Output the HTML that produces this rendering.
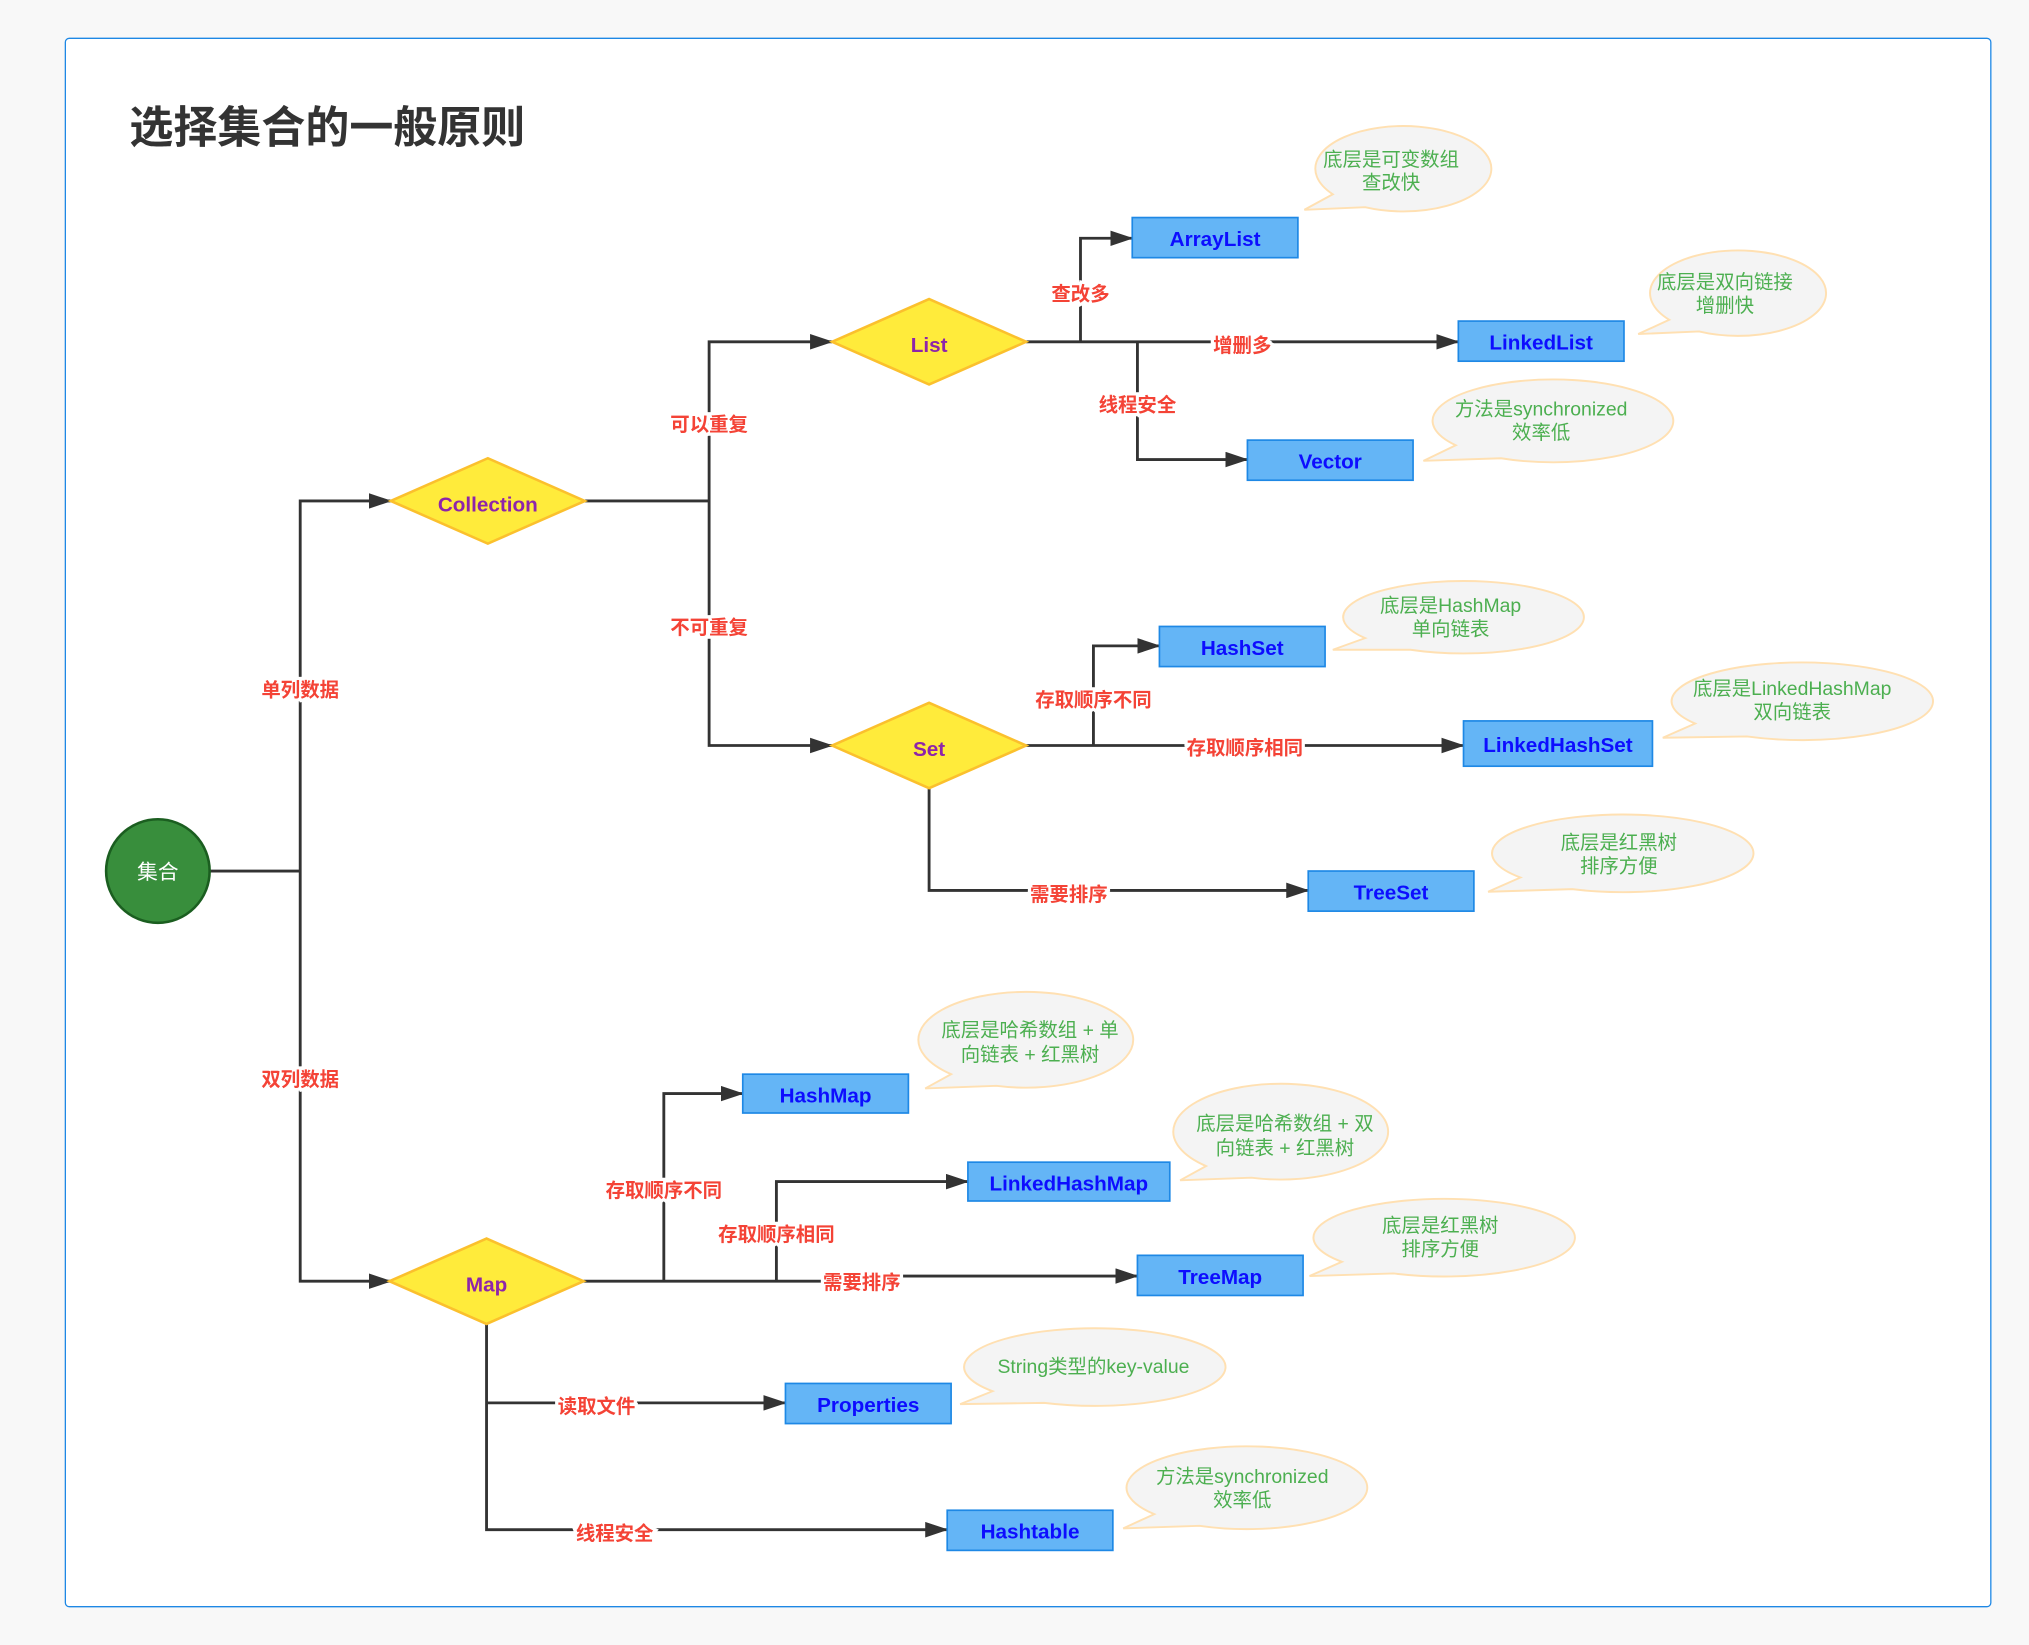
<!DOCTYPE html>
<html><head><meta charset="utf-8"><style>
html,body{margin:0;padding:0;background:#f8f8f8;}
svg{display:block;}
text{font-family:"Liberation Sans","Noto Sans CJK SC",sans-serif;}
.lbl{fill:#f44336;font-size:15px;font-weight:bold;text-anchor:middle;paint-order:stroke;stroke:#fff;stroke-width:5px;}
.box{fill:#64b5f6;stroke:#1e88e5;stroke-width:1.3;}
.bt{fill:#0d0dff;font-size:16px;font-weight:bold;text-anchor:middle;}
.dia{fill:#ffeb3b;stroke:#fbc02d;stroke-width:2;}
.dt{fill:#8e24aa;font-size:16px;font-weight:bold;text-anchor:middle;}
.ln{fill:none;stroke:#333;stroke-width:2.2;}
.cl{fill:#f4f4f4;stroke:#ffe0b2;stroke-width:1.5;}
.ct{fill:#4caf50;font-size:15px;text-anchor:middle;}
</style></head><body>
<svg width="2029" height="1645" viewBox="0 0 1568 1271" xmlns="http://www.w3.org/2000/svg">
<defs><marker id="a" markerWidth="10" markerHeight="10" refX="9" refY="5" orient="auto" markerUnits="userSpaceOnUse" viewBox="0 0 10 10"><path d="M0,0 L10,5 L0,10 z" fill="#333"/></marker>
<marker id="ar" markerWidth="18" markerHeight="12" refX="17" refY="6" orient="auto" markerUnits="userSpaceOnUse"><path d="M0,0 L18,6 L0,12 z" fill="#333"/></marker></defs>
<rect x="50.5" y="29.5" width="1488" height="1212" rx="3" fill="#fff" stroke="#1e88e5" stroke-width="1"/>
<text x="100" y="110" font-size="34" font-weight="bold" fill="#333">选择集合的一般原则</text>

<!-- connectors -->
<g class="ln">
<path d="M162,673 H232"/>
<path d="M232,673 V387 H302" marker-end="url(#ar)"/>
<path d="M232,673 V990 H302" marker-end="url(#ar)"/>
<path d="M452,387 H548"/>
<path d="M548,387 V264 H643" marker-end="url(#ar)"/>
<path d="M548,387 V576 H643" marker-end="url(#ar)"/>
<path d="M793,264 H1127" marker-end="url(#ar)"/>
<path d="M835,264 V184 H875" marker-end="url(#ar)"/>
<path d="M879,264 V355 H964" marker-end="url(#ar)"/>
<path d="M793,576 H1131" marker-end="url(#ar)"/>
<path d="M845,576 V499 H896" marker-end="url(#ar)"/>
<path d="M718,609 V688 H1011" marker-end="url(#ar)"/>
<path d="M451,990 H600 L640,990 H660 L680,986 H879" marker-end="url(#ar)"/>
<path d="M513,990 V845 H574" marker-end="url(#ar)"/>
<path d="M600,990 V913 H748" marker-end="url(#ar)"/>
<path d="M376,1023 V1182 H732" marker-end="url(#ar)"/>
<path d="M376,1084 H607" marker-end="url(#ar)"/>
</g>

<!-- labels -->
<text class="lbl" x="232" y="538">单列数据</text>
<text class="lbl" x="232" y="839">双列数据</text>
<text class="lbl" x="548" y="333">可以重复</text>
<text class="lbl" x="548" y="490">不可重复</text>
<text class="lbl" x="835" y="232">查改多</text>
<text class="lbl" x="960" y="272">增删多</text>
<text class="lbl" x="879" y="318">线程安全</text>
<text class="lbl" x="845" y="546">存取顺序不同</text>
<text class="lbl" x="962" y="583">存取顺序相同</text>
<text class="lbl" x="826" y="696">需要排序</text>
<text class="lbl" x="513" y="925">存取顺序不同</text>
<text class="lbl" x="600" y="959">存取顺序相同</text>
<text class="lbl" x="666" y="996">需要排序</text>
<text class="lbl" x="461" y="1092">读取文件</text>
<text class="lbl" x="475" y="1190">线程安全</text>

<!-- circle -->
<circle cx="122" cy="673" r="40" fill="#388e3c" stroke="#1b5e20" stroke-width="2"/>
<text x="122" y="679" font-size="16" fill="#fff" text-anchor="middle">集合</text>

<!-- diamonds -->
<polygon class="dia" points="302,387 377,354 452,387 377,420"/><text class="dt" x="377" y="395">Collection</text>
<polygon class="dia" points="643,264 718,231 793,264 718,297"/><text class="dt" x="718" y="272">List</text>
<polygon class="dia" points="643,576 718,543 793,576 718,609"/><text class="dt" x="718" y="584">Set</text>
<polygon class="dia" points="301,990 376,957 451,990 376,1023"/><text class="dt" x="376" y="998">Map</text>

<!-- boxes -->
<rect class="box" x="875" y="168" width="128" height="31"/><text class="bt" x="939" y="190">ArrayList</text>
<rect class="box" x="1127" y="248" width="128" height="31"/><text class="bt" x="1191" y="270">LinkedList</text>
<rect class="box" x="964" y="340" width="128" height="31"/><text class="bt" x="1028" y="362">Vector</text>
<rect class="box" x="896" y="484" width="128" height="31"/><text class="bt" x="960" y="506">HashSet</text>
<rect class="box" x="1131" y="557" width="146" height="35"/><text class="bt" x="1204" y="581">LinkedHashSet</text>
<rect class="box" x="1011" y="673" width="128" height="31"/><text class="bt" x="1075" y="695">TreeSet</text>
<rect class="box" x="574" y="830" width="128" height="30"/><text class="bt" x="638" y="852">HashMap</text>
<rect class="box" x="748" y="898" width="156" height="30"/><text class="bt" x="826" y="920">LinkedHashMap</text>
<rect class="box" x="879" y="970" width="128" height="31"/><text class="bt" x="943" y="992">TreeMap</text>
<rect class="box" x="607" y="1069" width="128" height="31"/><text class="bt" x="671" y="1091">Properties</text>
<rect class="box" x="732" y="1167" width="128" height="31"/><text class="bt" x="796" y="1189">Hashtable</text>

<!-- callouts -->
<g>
<path class="cl" d="M1030,150 A68,33 0 1 1 1055,160 L1008,162 Z"/>
<text class="ct" x="1075" y="128">底层是可变数组</text><text class="ct" x="1075" y="146">查改快</text>
<path class="cl" d="M1290,247 A68,33 0 1 1 1313,256 L1266,258 Z"/>
<text class="ct" x="1333" y="223">底层是双向链接</text><text class="ct" x="1333" y="241">增删快</text>
<path class="cl" d="M1125,344 A93,32 0 1 1 1160,354 L1100,356 Z"/>
<text class="ct" x="1191" y="321">方法是synchronized</text><text class="ct" x="1191" y="339">效率低</text>
<path class="cl" d="M1055,493 A93,28 0 1 1 1090,502 L1030,502 Z"/>
<text class="ct" x="1121" y="473">底层是HashMap</text><text class="ct" x="1121" y="491">单向链表</text>
<path class="cl" d="M1310,559 A101,30 0 1 1 1350,569 L1285,570 Z"/>
<text class="ct" x="1385" y="537">底层是LinkedHashMap</text><text class="ct" x="1385" y="555">双向链表</text>
<path class="cl" d="M1175,678 A101,30 0 1 1 1215,687 L1150,689 Z"/>
<text class="ct" x="1251" y="656">底层是红黑树</text><text class="ct" x="1251" y="674">排序方便</text>
<path class="cl" d="M735,830 A83,37 0 1 1 770,839 L715,841 Z"/>
<text class="ct" x="796" y="801">底层是哈希数组 + 单</text><text class="ct" x="796" y="820">向链表 + 红黑树</text>
<path class="cl" d="M932,901 A83,37 0 1 1 967,910 L912,912 Z"/>
<text class="ct" x="993" y="873">底层是哈希数组 + 双</text><text class="ct" x="993" y="892">向链表 + 红黑树</text>
<path class="cl" d="M1037,975 A101,30 0 1 1 1077,984 L1012,986 Z"/>
<text class="ct" x="1113" y="952">底层是红黑树</text><text class="ct" x="1113" y="970">排序方便</text>
<path class="cl" d="M767,1075 A101,30 0 1 1 807,1084 L742,1085 Z"/>
<text class="ct" x="845" y="1061">String类型的key-value</text>
<path class="cl" d="M892,1170 A93,32 0 1 1 927,1179 L868,1181 Z"/>
<text class="ct" x="960" y="1146">方法是synchronized</text><text class="ct" x="960" y="1164">效率低</text>
</g>
</svg>
</body></html>
